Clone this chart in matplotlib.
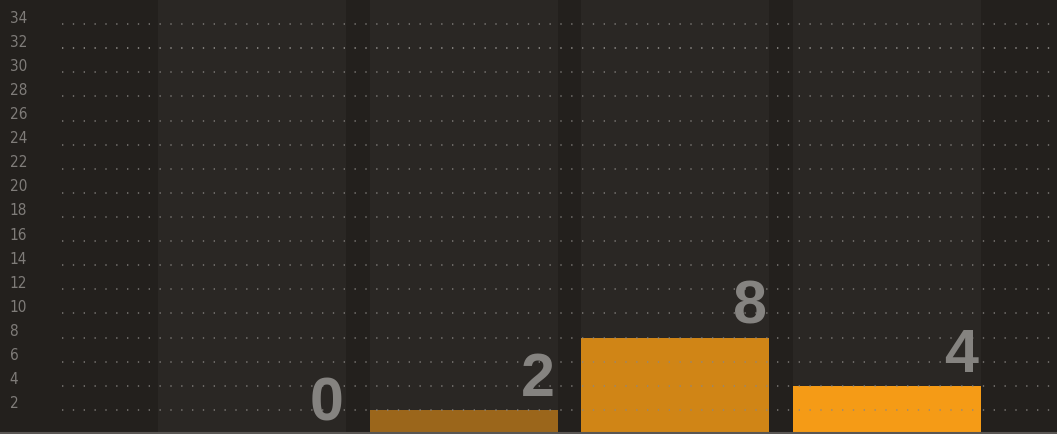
import numpy as np
import matplotlib
matplotlib.use("Agg")
import matplotlib.pyplot as plt

# data
categories = ["A", "B", "C", "D"]
values = [0, 2, 8, 4]
bar_colors = ["#9b661b", "#9b661b", "#d08516", "#f59b16"]
yticks = list(range(2, 35, 2))

bg = "#23201d"
band = "#2a2724"

fig = plt.figure(figsize=(10.57, 4.34), dpi=100, facecolor=bg)
ax = fig.add_axes([0, 0, 1, 1], facecolor=bg)

x = np.arange(len(categories))
width = 0.888
ax.set_xlim(-1.190, 3.802)
ax.set_ylim(0, 36)

# lighter column behind each category
ax.bar(x, [36] * len(x), width=width, color=band, zorder=0)
ax.bar(x, values, width=width, color=bar_colors, zorder=1)

# dotted grid
for t in yticks:
    c = "#a9a6a2" if t == 32 else "#8a8784"
    ax.hlines(t, -0.897, 3.802, colors=c, linestyles=(0, (0.8, 5.7)),
              linewidth=1.2, alpha=0.8, zorder=2)
    ax.text(0.009, t + 0.5, str(t), transform=ax.get_yaxis_transform(),
            ha="left", va="center", fontsize=11, color="#7f7c79",
            family="DejaVu Sans", fontstretch="condensed", fontweight="light")

# value labels
for xi, v in zip(x, values):
    ax.annotate(str(v), (xi + width / 2, v), xytext=(-2, 0.5),
                textcoords="offset points", ha="right", va="bottom",
                fontsize=44, fontweight="bold", color="#858380",
                family=["Liberation Sans", "DejaVu Sans"], zorder=3)

ax.axhline(0.1, color="#5a5754", linewidth=1.5, zorder=3)
ax.set_xticks([])
ax.set_yticks([])
for s in ax.spines.values():
    s.set_visible(False)

fig.savefig("out.png", dpi=100, facecolor=bg)
